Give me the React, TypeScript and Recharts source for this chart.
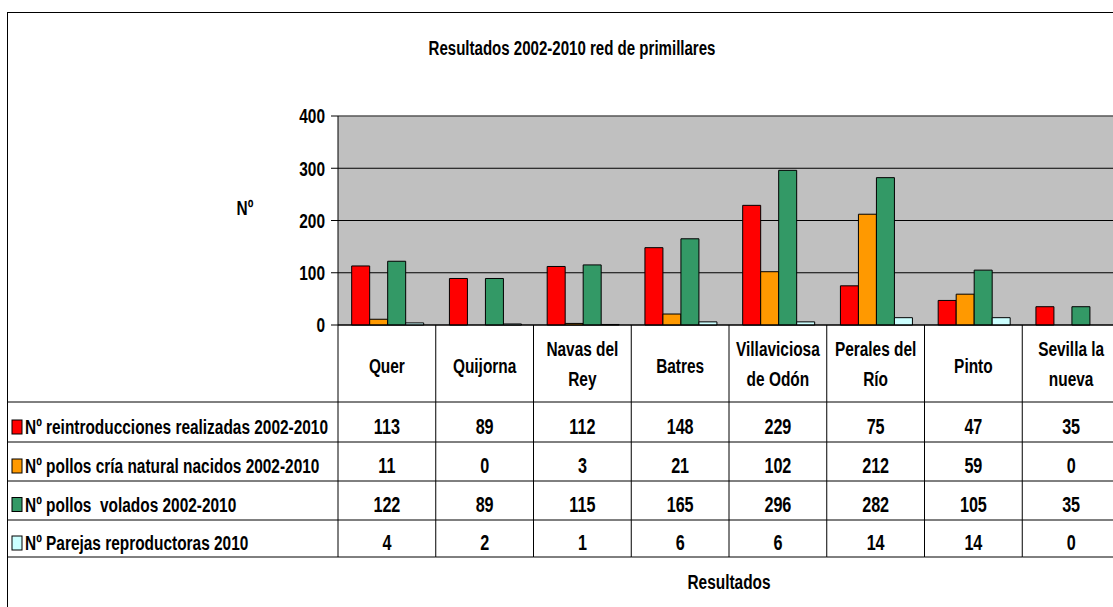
import React from "react";
import { BarChart, Bar, XAxis, YAxis, CartesianGrid, ReferenceLine } from "recharts";

const categories = ["Quer", "Quijorna", "Navas del Rey", "Batres", "Villaviciosa de Odón", "Perales del Río", "Pinto", "Sevilla la nueva"];
const categoryLabelLines = [["Quer"], ["Quijorna"], ["Navas del", "Rey"], ["Batres"], ["Villaviciosa", "de Odón"], ["Perales del", "Río"], ["Pinto"], ["Sevilla la", "nueva"]];
const reintroducciones = [113, 89, 112, 148, 229, 75, 47, 35];
const pollosNacidos = [11, 0, 3, 21, 102, 212, 59, 0];
const pollosVolados = [122, 89, 115, 165, 296, 282, 105, 35];
const parejas = [4, 2, 1, 6, 6, 14, 14, 0];
const seriesNames = [
  "Nº reintroducciones realizadas 2002-2010",
  "Nº pollos cría natural nacidos 2002-2010",
  "Nº pollos  volados 2002-2010",
  "Nº Parejas reproductoras 2010",
];
const seriesKeys = ["s0", "s1", "s2", "s3"];
const seriesValues = [reintroducciones, pollosNacidos, pollosVolados, parejas];
const seriesColors = ["#FF0000", "#FF9900", "#339966", "#CCFFFF"];
const yTicks = [0, 100, 200, 300, 400];
const titleText = "Resultados 2002-2010 red de primillares";
const yAxisTitle = "Nº";
const xAxisTitle = "Resultados";

const data = categories.map((c, i) => {
  const row: any = { name: c };
  seriesKeys.forEach((k, j) => (row[k] = seriesValues[j][i]));
  return row;
});

const FONT = '"Liberation Sans", Arial, sans-serif';
const SX = 0.735;
const CHART_W = 1130;
const CHART_H = 607;
const MARGIN = { top: 116, right: 10, left: 278, bottom: 12 };
const Y_W = 60;
const X_H = 270;
const PLOT_LEFT = MARGIN.left + Y_W;
const BW = (CHART_W - PLOT_LEFT - MARGIN.right) / categories.length;
const ROW_LINES = [77, 117, 156, 195, 232];
const VALUE_Y = [102, 141, 179.5, 218];
const LEGEND_LEFT = 7;

const NText = ({ x, y, children, size = 21, anchor = "middle" }: any) => (
  <text
    transform={`translate(${x},${y}) scale(${SX},1)`}
    x={0}
    y={0}
    textAnchor={anchor}
    dominantBaseline="central"
    fontFamily={FONT}
    fontWeight="bold"
    fontSize={size}
    fill="#000"
    style={{ whiteSpace: "pre" }}
  >
    {children}
  </text>
);

const TableTick = (props: any) => {
  const { x, y, payload } = props;
  const i = payload.index;
  const left = x - BW / 2;
  const right = x + BW / 2;
  const lines = categoryLabelLines[i];
  const tableBottom = y + ROW_LINES[ROW_LINES.length - 1];
  return (
    <g>
      <line x1={left} x2={left} y1={y} y2={tableBottom} stroke="#000" strokeWidth={1} />
      {i === categories.length - 1 && (
        <line x1={right} x2={right} y1={y} y2={tableBottom} stroke="#000" strokeWidth={1} />
      )}
      {ROW_LINES.map((r, k) => (
        <line key={k} x1={i === 0 ? LEGEND_LEFT : left} x2={right} y1={y + r} y2={y + r} stroke="#000" strokeWidth={1} />
      ))}
      {lines.map((t, k) => (
        <NText key={k} x={x} y={y + (lines.length === 1 ? 41 : k === 0 ? 24 : 54)}>
          {t}
        </NText>
      ))}
      {seriesValues.map((vals, k) => (
        <NText key={"v" + k} x={x} y={y + VALUE_Y[k]} size={22}>
          {vals[i]}
        </NText>
      ))}
      {i === 0 &&
        seriesNames.map((n, k) => (
          <g key={"l" + k}>
            <rect x={12} y={y + VALUE_Y[k] - 7} width={10} height={14} fill={seriesColors[k]} stroke="#000" strokeWidth={1} />
            <NText x={25} y={y + VALUE_Y[k]} anchor="start">
              {n}
            </NText>
          </g>
        ))}
    </g>
  );
};

const YTick = (props: any) => {
  const { x, y, payload } = props;
  return (
    <NText x={x} y={y} anchor="end">
      {payload.value}
    </NText>
  );
};

const XTitle = (props: any) => {
  const vb = props.viewBox || {};
  return (
    <NText x={vb.x + vb.width / 2} y={vb.y + 257}>
      {xAxisTitle}
    </NText>
  );
};

export default function App() {
  return (
    <div style={{ position: "absolute", left: 0, top: 0, width: 1113, height: 607, overflow: "hidden", background: "#fff" }}>
      <div style={{ position: "absolute", left: 7, top: 12, width: 1200, height: 700, border: "1px solid #000", boxSizing: "border-box" }} />
      <div style={{ position: "absolute", left: 0, top: 0 }}>
        <BarChart width={CHART_W} height={CHART_H} data={data} margin={MARGIN} barCategoryGap="14%" barGap={0}>
          <CartesianGrid vertical={false} stroke="#000" fill="#C0C0C0" fillOpacity={1} />
          <ReferenceLine y={400} stroke="#808080" strokeWidth={1} />
          <XAxis
            dataKey="name"
            height={X_H}
            tickLine={false}
            tickSize={0}
            tickMargin={0}
            axisLine={{ stroke: "#000" }}
            tick={(p: any) => <TableTick {...p} />}
            interval={0}
            label={<XTitle />}
          />
          <YAxis
            width={Y_W}
            domain={[0, 400]}
            ticks={yTicks}
            interval={0}
            tickSize={7}
            tickMargin={6}
            axisLine={{ stroke: "#000" }}
            tickLine={{ stroke: "#000" }}
            tick={(p: any) => <YTick {...p} />}
          />
          {seriesKeys.map((k, j) => (
            <Bar key={k} dataKey={k} name={seriesNames[j]} fill={seriesColors[j]} stroke="#000" strokeWidth={1} isAnimationActive={false} />
          ))}
        </BarChart>
      </div>
      <svg style={{ position: "absolute", left: 0, top: 0, pointerEvents: "none" }} width={1113} height={607}>
        <NText x={572} y={48} size={20.5}>
          {titleText}
        </NText>
        <NText x={245} y={208}>
          {yAxisTitle}
        </NText>
      </svg>
    </div>
  );
}
